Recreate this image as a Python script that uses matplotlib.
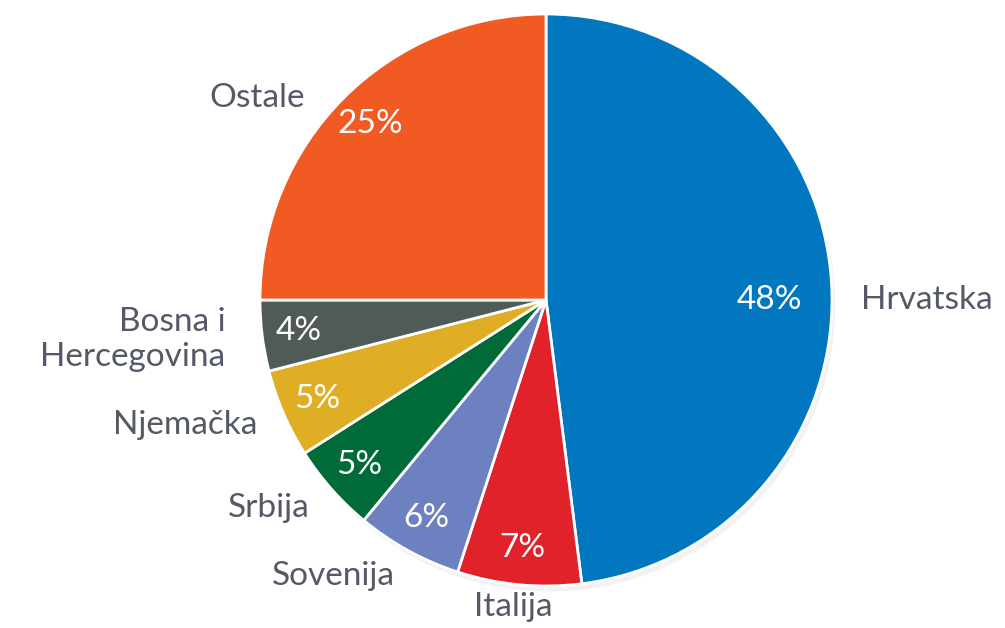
import matplotlib
matplotlib.use("Agg")
import matplotlib.pyplot as plt
import numpy as np

categories = ["Hrvatska", "Italija", "Sovenija", "Srbija", "Njemačka", "Bosna i\nHercegovina", "Ostale"]
values = [48, 7, 6, 5, 5, 4, 25]
colors = ["#0077BE", "#E2222B", "#6D81C0", "#006A38", "#E0AE25", "#505A56", "#F15A22"]

W, H = 1005, 628
fig = plt.figure(figsize=(W / 100, H / 100), dpi=100)
fig.patch.set_facecolor("white")

cx, cy, R = 546, 300, 286
ax = fig.add_axes([(cx - R) / W, (H - cy - R) / H, 2 * R / W, 2 * R / H])

font = "Lato"
label_color = "#545868"
fs = 24

wedges, texts, autotexts = ax.pie(
    values,
    labels=categories,
    colors=colors,
    startangle=90,
    counterclock=False,
    radius=1.0,
    labeldistance=1.1,
    pctdistance=0.87,
    autopct=lambda p: f"{p:.0f}%",
    wedgeprops=dict(edgecolor="white", linewidth=2),
    textprops=dict(fontsize=fs, family=font, fontweight="normal"),
    shadow=dict(ox=0.008, oy=-0.014, alpha=0.05, facecolor="black", edgecolor="none"),
)
ax.set_xlim(-1, 1)
ax.set_ylim(-1, 1)
ax.set_aspect("equal")
ax.axis("off")

for t in texts:
    t.set_color(label_color)
for t in autotexts:
    t.set_color("white")

# fine tuning of label placements
autotexts[0].set_position((0.78, 0.0))
texts[0].set_position((1.1, 0.0))
texts[1].set_horizontalalignment("center")
x, y = texts[1].get_position()
texts[1].set_position((x - 0.01, y + 0.02))
x, y = texts[5].get_position()
texts[5].set_position((x - 0.03, y))
ang = np.deg2rad(140)
texts[6].set_position((1.1 * np.cos(ang), 1.1 * np.sin(ang)))

fig.savefig("out.png", dpi=100, facecolor="white")
